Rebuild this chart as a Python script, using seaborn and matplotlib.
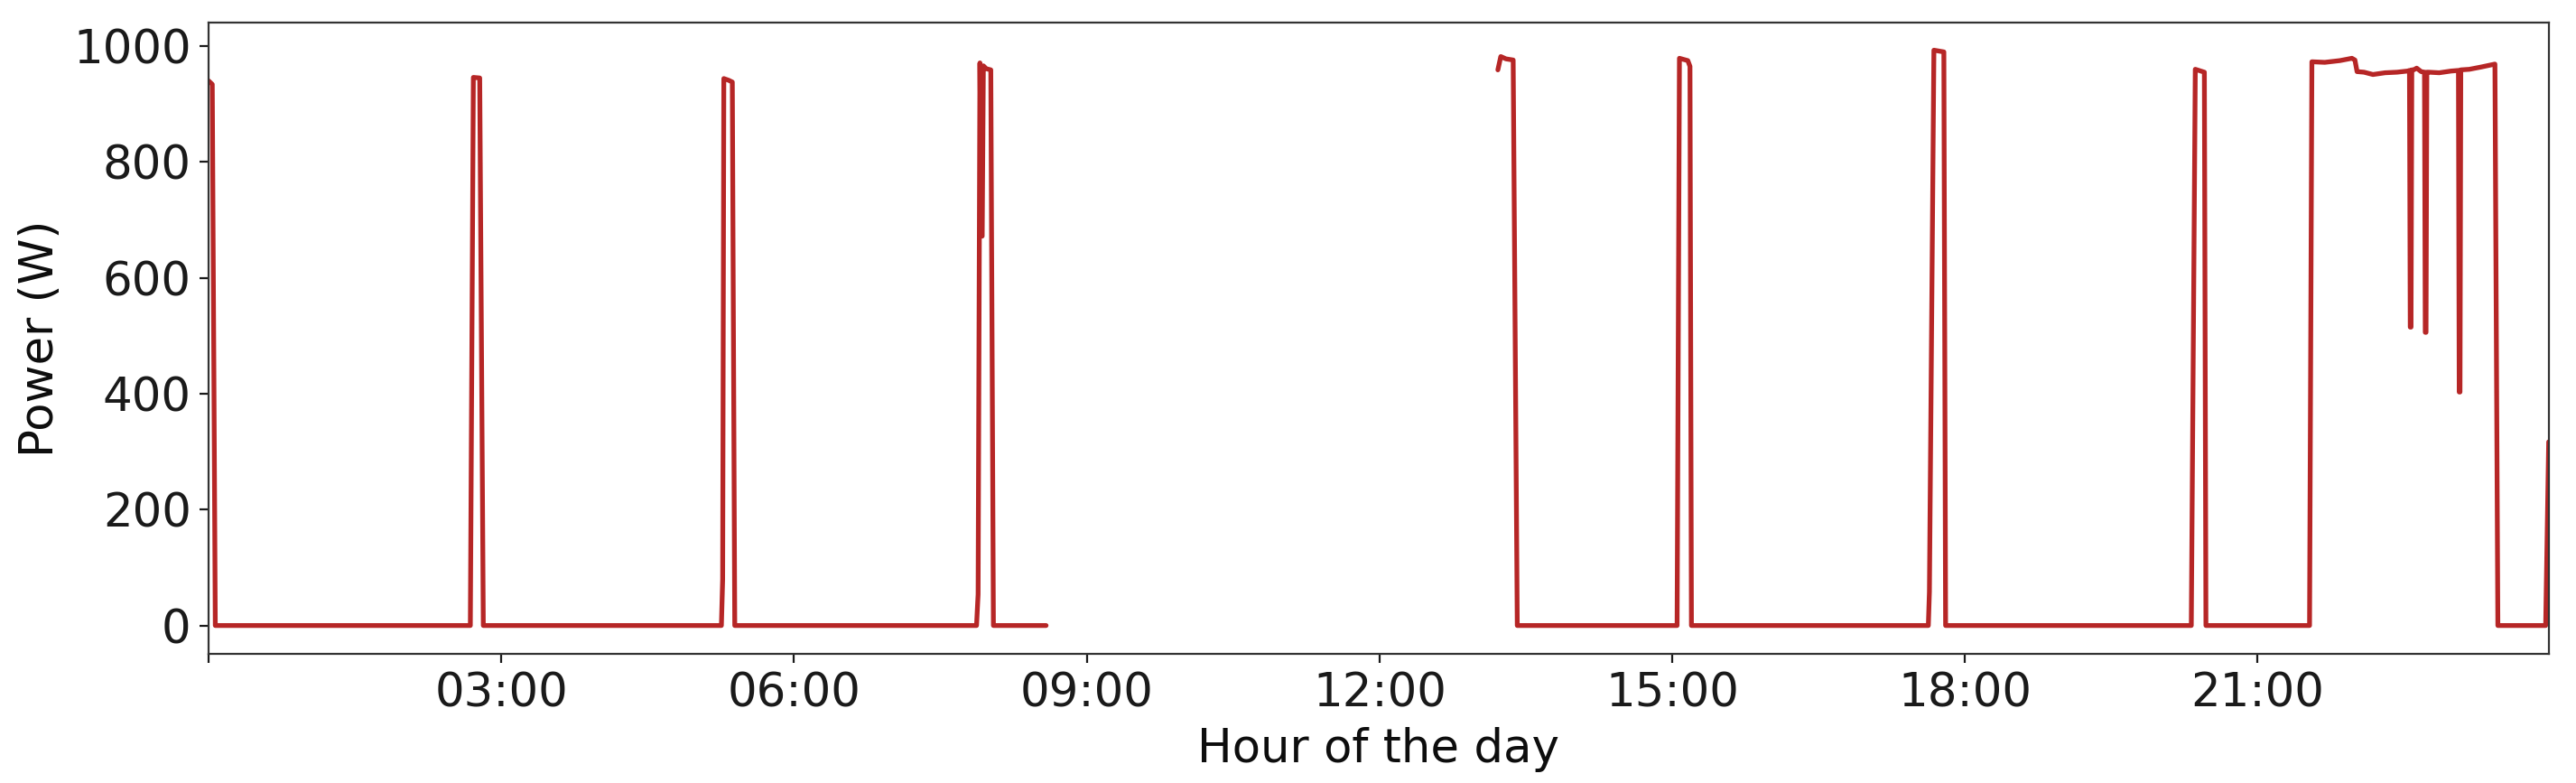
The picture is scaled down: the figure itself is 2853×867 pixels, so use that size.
import numpy as np
import pandas as pd
import matplotlib
matplotlib.use("Agg")
import matplotlib.pyplot as plt
import seaborn as sns

# ---- data (hour of day, power in W) ----
# segment 0: morning record (00:00 - 08:35)
hours_morning = [0.000, 0.037, 0.068,
                 2.682, 2.713, 2.778, 2.815,
                 5.255, 5.268, 5.280, 5.330, 5.367, 5.392,
                 7.870, 7.886, 7.905, 7.922, 7.928, 7.940, 7.970, 8.016, 8.043,
                 8.583]
power_morning = [940, 934, 0,
                 0, 946, 945, 0,
                 0, 80, 944, 941, 938, 0,
                 0, 54, 971, 672, 672, 966, 961, 959, 0,
                 0]

# segment 1: afternoon/evening record (13:12 - 23:59)
hours_evening = [13.213, 13.243, 13.296, 13.370, 13.412,
                 15.050, 15.074, 15.160, 15.182, 15.197,
                 17.625, 17.636, 17.682, 17.784, 17.802,
                 20.320, 20.361, 20.454, 20.470,
                 21.532, 21.556, 21.688, 21.843, 21.966, 21.997, 22.019,
                 22.090, 22.182, 22.306, 22.429, 22.537, 22.556, 22.564,
                 22.572, 22.580, 22.599, 22.630, 22.676, 22.710, 22.718,
                 22.726, 22.734, 22.753, 22.861, 22.984, 23.058, 23.066,
                 23.074, 23.082, 23.170, 23.293, 23.432, 23.462,
                 23.952, 23.983]
power_evening = [959, 982, 978, 976, 0,
                 0, 979, 975, 965, 0,
                 0, 58, 993, 990, 0,
                 0, 960, 955, 0,
                 0, 973, 972, 975, 979, 976, 956,
                 955, 951, 954, 955, 957, 958, 515,
                 515, 959, 959, 962, 956, 955, 506,
                 506, 955, 955, 954, 957, 958, 403,
                 403, 959, 960, 964, 969, 0,
                 0, 317]

tick_hours = [0, 3, 6, 9, 12, 15, 18, 21]
tick_labels = ["", "03:00", "06:00", "09:00", "12:00", "15:00", "18:00", "21:00"]

df = pd.DataFrame({
    "hour": hours_morning + hours_evening,
    "power": power_morning + power_evening,
    "segment": [0] * len(hours_morning) + [1] * len(hours_evening),
})

sns.set_style("ticks")
plt.rcParams["font.family"] = ["DejaVu Sans"]

fig = plt.figure(figsize=(14.265, 4.335), dpi=200)
ax = fig.add_axes([0.081, 0.1645, 0.9084, 0.8062])

sns.lineplot(data=df, x="hour", y="power", units="segment", estimator=None,
             color="#aa0000", alpha=0.85, linewidth=1.9, sort=False, ax=ax)

ax.set_xlim(0, 23.983)
ax.set_ylim(-49.5, 1040)
ax.set_xticks(tick_hours)
ax.set_xticklabels(tick_labels)
ax.set_yticks([0, 200, 400, 600, 800, 1000])
ax.tick_params(axis="both", labelsize=18.5, colors="0.1", length=3.5, width=0.8)
ax.set_xlabel("Hour of the day", fontsize=18.5, color="0.05")
ax.set_ylabel("Power (W)", fontsize=18.5, color="0.05")
for s in ax.spines.values():
    s.set_visible(True)
    s.set_color("0.2")
    s.set_linewidth(0.8)

fig.savefig("out.png", dpi=200)
